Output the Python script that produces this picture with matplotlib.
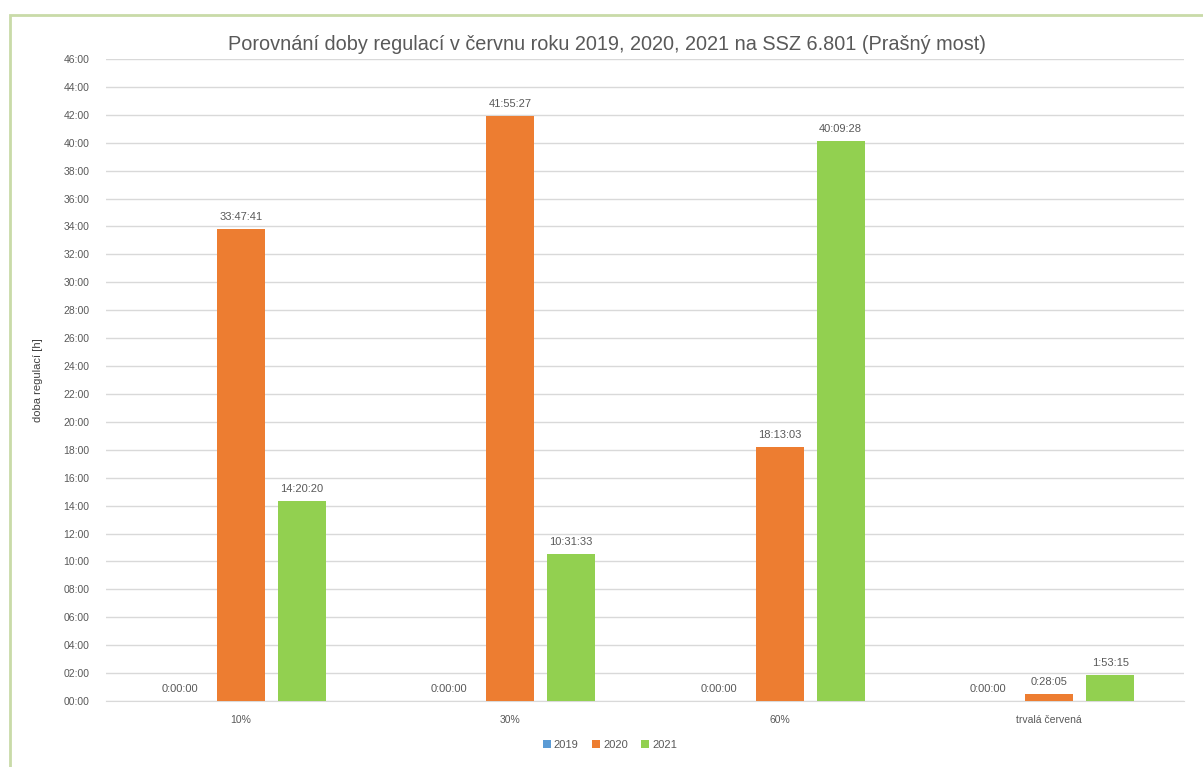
import matplotlib
matplotlib.use("Agg")
import matplotlib.pyplot as plt
from matplotlib.patches import Rectangle
import numpy as np

categories = ["10%", "30%", "60%", "trvalá červená"]
series_names = ["2019", "2020", "2021"]
labels_2019 = ["0:00:00", "0:00:00", "0:00:00", "0:00:00"]
labels_2020 = ["33:47:41", "41:55:27", "18:13:03", "0:28:05"]
labels_2021 = ["14:20:20", "10:31:33", "40:09:28", "1:53:15"]
yticks_h = list(range(0, 47, 2))
colors = ["#5b9bd5", "#ed7d31", "#92d050"]


def to_hours(s):
    h, m, sec = (int(p) for p in s.split(":"))
    return h + m / 60 + sec / 3600


series_labels = [labels_2019, labels_2020, labels_2021]
series_vals = [[to_hours(s) for s in lab] for lab in series_labels]

plt.rcParams['font.family'] = ['Liberation Sans', 'DejaVu Sans']

fig = plt.figure(figsize=(12.03, 7.67), dpi=100)
# outer frame
fig.patches.append(Rectangle((10 / 1203, -0.05), 1.1, 1 - 15 / 767 + 0.05,
                             transform=fig.transFigure, fill=False,
                             edgecolor="#c9dba8", linewidth=2))

ax = fig.add_axes([106 / 1203, 1 - 701 / 767, 1078 / 1203, (701 - 59) / 767])
x = np.arange(len(categories))
step = 0.226
width = 0.178
for i, (vals, labs) in enumerate(zip(series_vals, series_labels)):
    xs = x + (i - 1) * step
    ax.bar(xs, vals, width=width, color=colors[i], label=series_names[i], zorder=3)
    for xi, v, l in zip(xs, vals, labs):
        ax.text(xi, v + 0.5, l, ha="center", va="bottom", fontsize=8, color="#595959")

ax.set_xlim(-0.5, 3.5)
ax.set_ylim(0, 46)
ax.set_yticks(yticks_h)
ax.set_yticklabels([f"{h:02d}:00" for h in yticks_h])
ax.set_xticks(x)
ax.set_xticklabels(categories)
ax.tick_params(axis="both", length=0, labelsize=7.5, colors="#595959")
ax.tick_params(axis="y", pad=12)
ax.tick_params(axis="x", pad=10)
ax.grid(axis="y", color="#d9d9d9", linewidth=1, zorder=0)
for sp in ["top", "right", "left"]:
    ax.spines[sp].set_visible(False)
ax.spines["bottom"].set_color("#d9d9d9")
ax.set_ylabel("doba regulací [h]", fontsize=8, color="#404040", labelpad=4)
ax.yaxis.set_label_coords(-0.058, 0.5)

fig.text(607 / 1203, 1 - 45 / 767, "Porovnání doby regulací v červnu roku 2019, 2020, 2021 na SSZ 6.801 (Prašný most)",
         ha="center", va="center", fontsize=14.3, color="#595959")

fig.legend(loc="center", bbox_to_anchor=(610 / 1203, 1 - 745 / 767), ncol=3, frameon=False,
           fontsize=8, labelcolor="#595959", handlelength=0.7, handleheight=0.7,
           handletextpad=0.3, columnspacing=1.2)

fig.savefig("out.png", dpi=100, facecolor="white")
